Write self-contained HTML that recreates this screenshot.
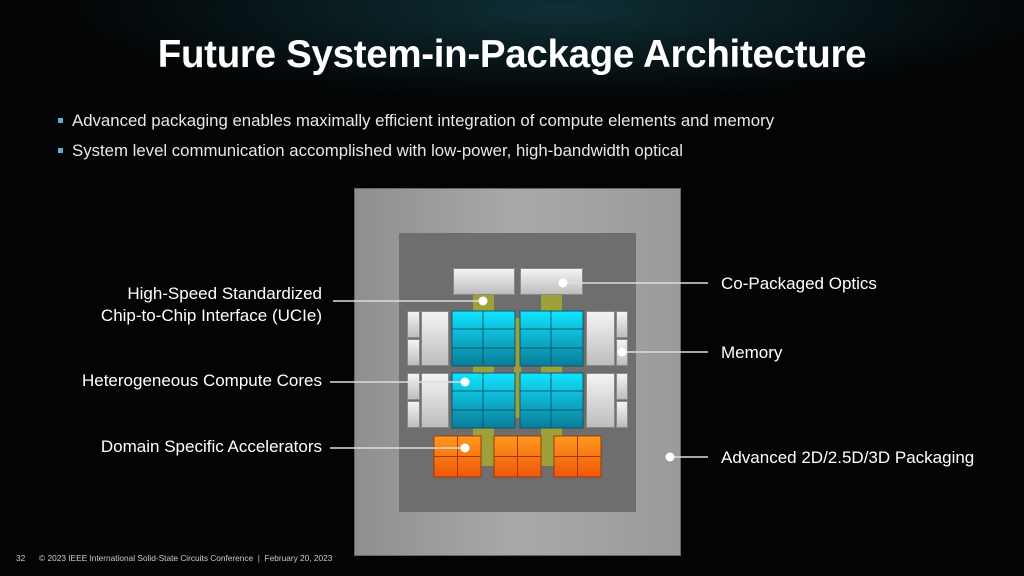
<!DOCTYPE html><html><head><style>
body{margin:0;width:1024px;height:576px;background:#030405;overflow:hidden;position:relative;font-family:"Liberation Sans",sans-serif}
div{position:absolute;box-sizing:border-box}
.t{color:#fff;font-size:17px;white-space:nowrap}
.bul{color:#e8e8e8;font-size:16.8px;white-space:nowrap}
.bul:before{content:"";position:absolute;left:-14px;top:7px;width:5px;height:5px;background:#5fb0d8}
.gr{background:linear-gradient(#f4f4f4,#bdbdbd);border:1px solid #8a8a8a}
.ol{background:#9ea03a}
</style></head><body>
<div style="left:0;top:0;width:1024px;height:100px;background:radial-gradient(ellipse 500px 90px at 560px 10px,#0e3036,transparent)"></div>
<div class="t" style="left:0;width:1024px;top:33px;text-align:center;font-size:38.5px;font-weight:bold;letter-spacing:-0.3px">Future System-in-Package Architecture</div>
<div class="bul" style="left:72px;top:111px">Advanced packaging enables maximally efficient integration of compute elements and memory</div>
<div class="bul" style="left:72px;top:141px">System level communication accomplished with low-power, high-bandwidth optical</div>

<div style="left:354px;top:188px;width:327px;height:368px;background:linear-gradient(90deg,#8f8f8f,#a9a9a9 50%,#9a9a9a);border:1px solid #666"></div>
<div style="left:399px;top:233px;width:237px;height:279px;background:#6e6e6e"></div>

<div class="gr" style="left:453px;top:268px;width:62px;height:27px"></div>
<div class="gr" style="left:520px;top:268px;width:63px;height:27px"></div>
<div class="ol" style="left:473px;top:295px;width:21px;height:16px"></div>
<div class="ol" style="left:541px;top:295px;width:21px;height:16px"></div>
<div class="ol" style="left:473px;top:366px;width:21px;height:7px"></div>
<div class="ol" style="left:541px;top:366px;width:21px;height:7px"></div>
<div class="ol" style="left:473px;top:428px;width:21px;height:38px"></div>
<div class="ol" style="left:541px;top:428px;width:21px;height:38px"></div>
<div class="ol" style="left:514px;top:318px;width:7px;height:100px"></div>

<div class="gr" style="left:407px;top:311px;width:13px;height:27px"></div><div class="gr" style="left:407px;top:339px;width:13px;height:27px"></div>
<div class="gr" style="left:421px;top:311px;width:28px;height:55px"></div>
<div class="gr" style="left:586px;top:311px;width:29px;height:55px"></div>
<div class="gr" style="left:616px;top:311px;width:12px;height:27px"></div><div class="gr" style="left:616px;top:339px;width:12px;height:27px"></div>
<div class="gr" style="left:407px;top:373px;width:13px;height:27px"></div><div class="gr" style="left:407px;top:401px;width:13px;height:27px"></div>
<div class="gr" style="left:421px;top:373px;width:28px;height:55px"></div>
<div class="gr" style="left:586px;top:373px;width:29px;height:55px"></div>
<div class="gr" style="left:616px;top:373px;width:12px;height:27px"></div><div class="gr" style="left:616px;top:401px;width:12px;height:27px"></div>

<svg style="position:absolute;left:0;top:0" width="1024" height="576">
<defs><linearGradient id="c" x1="0" y1="0" x2="0" y2="1"><stop offset="0" stop-color="#10e4ff"/><stop offset="1" stop-color="#0a7d9a"/></linearGradient>
<linearGradient id="o" x1="0" y1="0" x2="0" y2="1"><stop offset="0" stop-color="#ff9a1e"/><stop offset="1" stop-color="#f0560a"/></linearGradient></defs>
<g stroke="#0b5870" stroke-width="1">
<rect x="452" y="311" width="63" height="55" fill="url(#c)"/><rect x="520" y="311" width="63" height="55" fill="url(#c)"/>
<rect x="452" y="373" width="63" height="55" fill="url(#c)"/><rect x="520" y="373" width="63" height="55" fill="url(#c)"/>
<path d="M483 311V366M551 311V366M483 373V428M551 373V428M452 329H515M452 348H515M520 329H583M520 348H583M452 391H515M452 410H515M520 391H583M520 410H583"/>
</g>
<g stroke="#a03a06" fill="url(#o)">
<rect x="434" y="436" width="47" height="41"/><rect x="494" y="436" width="47" height="41"/><rect x="554" y="436" width="47" height="41"/>
<path d="M457.5 436V477M517.5 436V477M577.5 436V477M434 456.5H481M494 456.5H541M554 456.5H601" fill="none"/></g>
<g stroke="#ddd" stroke-width="1.5">
<path d="M333 301H483M563 283H708M622 352H708M330 382H465M330 448H465M670 457H708"/></g>
<g fill="#fff"><circle cx="483" cy="301" r="4.5"/><circle cx="563" cy="283" r="4.5"/><circle cx="622" cy="352" r="4.5"/><circle cx="465" cy="382" r="4.5"/><circle cx="465" cy="448" r="4.5"/><circle cx="670" cy="457" r="4.5"/></g>
</svg>

<div class="t" style="right:702px;top:283px;text-align:right;line-height:22px">High-Speed Standardized<br>Chip-to-Chip Interface (UCIe)</div>
<div class="t" style="right:702px;top:371px">Heterogeneous Compute Cores</div>
<div class="t" style="right:702px;top:437px">Domain Specific Accelerators</div>
<div class="t" style="left:721px;top:274px">Co-Packaged Optics</div>
<div class="t" style="left:721px;top:343px">Memory</div>
<div class="t" style="left:721px;top:448px">Advanced 2D/2.5D/3D Packaging</div>
<div style="left:16px;top:553px;color:#ccc;font-size:8.3px;white-space:nowrap">32&nbsp;&nbsp;&nbsp;&nbsp;&nbsp;&nbsp;© 2023 IEEE International Solid-State Circuits Conference&nbsp; |&nbsp; February 20, 2023</div>
</body></html>
